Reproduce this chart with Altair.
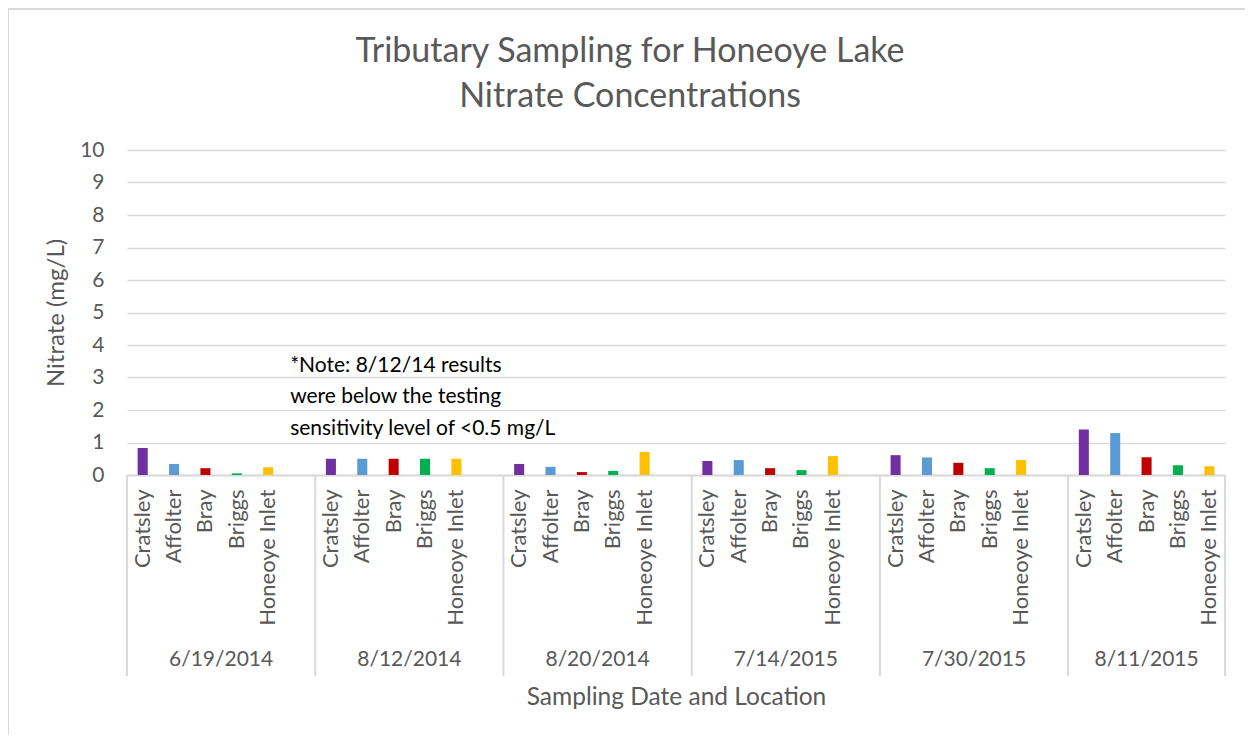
import altair as alt
import pandas as pd

dates = ["6/19/2014", "8/12/2014", "8/20/2014", "7/14/2015", "7/30/2015", "8/11/2015"]
locations = ["Cratsley", "Affolter", "Bray", "Briggs", "Honeoye Inlet"]
cratsley = [0.83, 0.50, 0.34, 0.43, 0.61, 1.40]
affolter = [0.34, 0.50, 0.25, 0.46, 0.54, 1.29]
bray = [0.21, 0.50, 0.09, 0.21, 0.375, 0.55]
briggs = [0.05, 0.50, 0.125, 0.15, 0.21, 0.30]
honeoye = [0.24, 0.50, 0.71, 0.58, 0.46, 0.27]
colors = ["#7030A0", "#5B9BD5", "#C00000", "#00B050", "#FFC000"]
note = "*Note: 8/12/14 results\nwere below the testing\nsensitivity level of <0.5 mg/L"

series = [cratsley, affolter, bray, briggs, honeoye]

# Build the category slots (Excel sheet has a blank row after each date except the last)
rows, domain, groups = [], [], []
slot = 0
for i, d in enumerate(dates):
    start = slot
    for j, loc in enumerate(locations):
        key = f"{i}|{loc}"
        domain.append(key)
        rows.append({"key": key, "date": d, "location": loc, "value": series[j][i]})
        slot += 1
    if i < len(dates) - 1:
        domain.append(f"{i}|")
        slot += 1
    groups.append({"date": d, "start": start, "end": slot, "mid": (start + slot) / 2})
nslots = slot
bars_df = pd.DataFrame(rows)
groups_df = pd.DataFrame(groups)
bounds_df = pd.DataFrame({"b": [0] + [g["end"] for g in groups]})

W, H = 1098, 325
FONT = "Lato"
GREY = "#595959"
LINE = "#D9D9D9"

yscale = alt.Scale(domain=[0, 10], nice=False)

bars = alt.Chart(bars_df).mark_bar().encode(
    x=alt.X("key:N", sort=domain,
            scale=alt.Scale(domain=domain, paddingInner=0.68, paddingOuter=0.34),
            axis=alt.Axis(title="Sampling Date and Location", labelAngle=-90,
                          labelExpr="split(datum.value, '|')[1]",
                          labelPadding=14, ticks=False, domainColor=LINE, domainWidth=2,
                          labelFontSize=22, labelColor=GREY, labelFont=FONT,
                          titleFontSize=24.5, titleColor=GREY, titleFont=FONT,
                          titleFontWeight="normal", titleY=222, titleBaseline="middle",
                          labelOverlap=False, labelBound=False)),
    y=alt.Y("value:Q", scale=yscale,
            axis=alt.Axis(title="Nitrate (mg/L)", values=list(range(0, 11)),
                          grid=True, gridColor=LINE, gridWidth=1.5, domain=False, ticks=False,
                          labelPadding=23, labelFontSize=21, labelColor=GREY, labelFont=FONT,
                          titleFontSize=24, titleColor=GREY, titleFont=FONT,
                          titleFontWeight="normal", titleX=-71, titleY=H / 2,
                          titleBaseline="middle", labelOverlap=False)),
    color=alt.Color("location:N", scale=alt.Scale(domain=locations, range=colors), legend=None),
)

xq = alt.Scale(domain=[0, nslots], nice=False, zero=False)

seps = alt.Chart(bounds_df).mark_rule(color=LINE, strokeWidth=2).encode(
    x=alt.X("b:Q", scale=xq, axis=None),
    y=alt.value(H),
    y2=alt.value(H + 201),
)

date_text = alt.Chart(groups_df).mark_text(
    fontSize=21, color=GREY, font=FONT, baseline="middle", align="center"
).encode(
    x=alt.X("mid:Q", scale=xq, axis=None),
    y=alt.value(H + 185),
    text="date:N",
)

note_text = alt.Chart(pd.DataFrame({"t": [note]})).mark_text(
    fontSize=21, color="#000000", font=FONT, align="left", baseline="middle",
    lineBreak="\n", lineHeight=31.5,
).encode(
    x=alt.datum(5.2, scale=xq, axis=None),
    y=alt.datum(3.36, axis=None),
    text="t:N",
)

# chart frame: only the top and left edges fall inside the picture
frame_df = pd.DataFrame({"edge": ["top", "left"]})
border_top = alt.Chart(frame_df).transform_filter("datum.edge == 'top'").mark_rule(
    color=LINE, strokeWidth=2
).encode(x=alt.value(-119), x2=alt.value(W + 20), y=alt.value(-141))
border_left = alt.Chart(frame_df).transform_filter("datum.edge == 'left'").mark_rule(
    color=LINE, strokeWidth=2
).encode(x=alt.value(-119), y=alt.value(-141), y2=alt.value(H + 260))

chart = alt.layer(bars, seps, date_text, note_text, border_top, border_left).resolve_scale(
    x="independent"
).resolve_axis(
    y="independent"
).properties(
    width=W, height=H,
    padding={"left": 119, "top": 142, "right": 20, "bottom": 260},
    autosize=alt.AutoSizeParams(type="none"),
    title=alt.TitleParams(
        text=["Tributary Sampling for Honeoye Lake", "Nitrate Concentrations"],
        fontSize=34, color=GREY, font=FONT, fontWeight="normal",
        lineHeight=45, anchor="middle", dx=-46, offset=0, dy=106,
    ),
).configure_view(stroke=None)

chart.save("out.html", embed_options={"renderer": "svg", "actions": False})
